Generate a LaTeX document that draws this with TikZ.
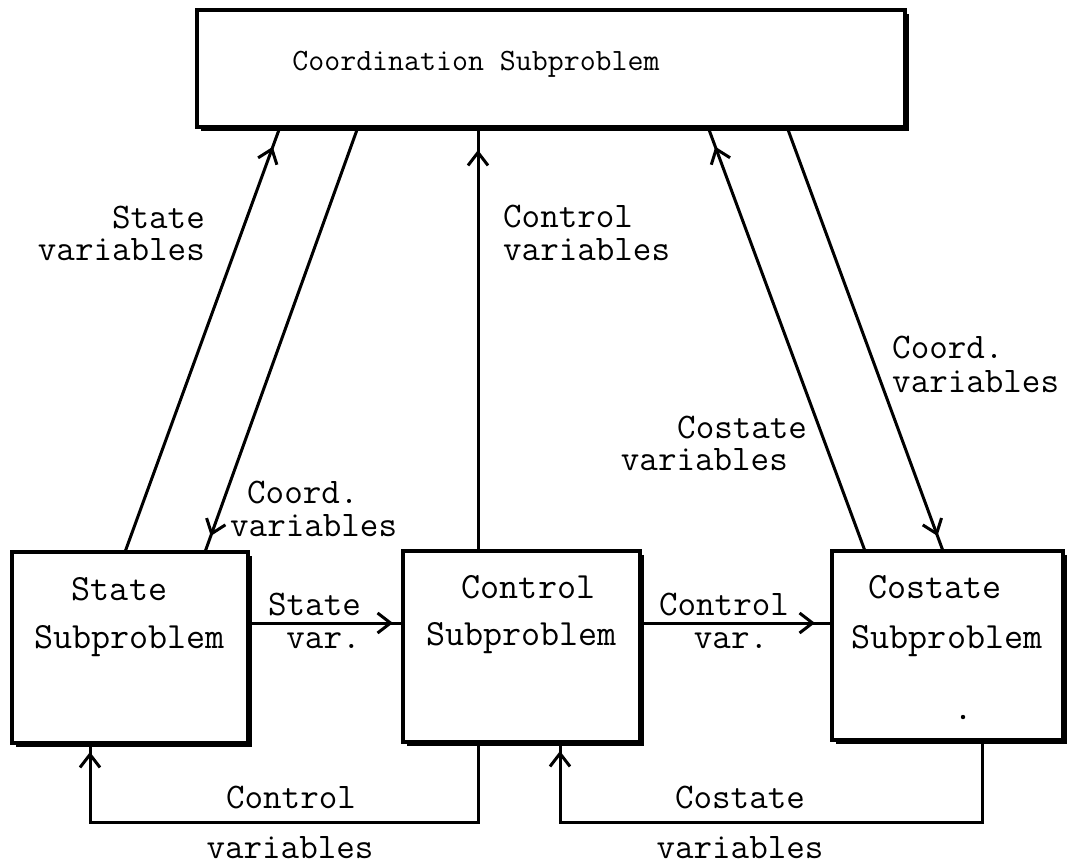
\documentclass[tikz,border=0pt]{standalone}
\usepackage{fontspec}
\usetikzlibrary{arrows.meta,decorations.markings,calc}

\newcommand{\typed}{\ttfamily\addfontfeatures{FakeBold=0.7}}

\tikzset{
  box/.style={draw, line width=3.6pt, inner sep=0pt, outer sep=0pt},
  wire/.style={line width=3pt},
  lbl/.style={font=\fontsize{36}{36}\selectfont\typed, inner sep=0pt},
  boxtext/.style={font=\fontsize{37}{37}\selectfont\typed, inner sep=0pt},
  titletext/.style={font=\fontsize{31}{31}\selectfont\typed, inner sep=0pt},
  headat/.style={postaction={decorate},
    decoration={markings, mark=at position -#1 with
      {\arrow{Straight Barb[length=13pt,width=20pt,line width=3pt]}}}},
}

\begin{document}
\begin{tikzpicture}[x=1pt,y=-1pt]
\useasboundingbox (0,0) rectangle (1067,865);

% blocks
\node[box, minimum width=708pt, minimum height=117pt] (coord)   at (551,68.5)   {};
\node[box, minimum width=236pt, minimum height=191pt] (state)   at (130,647.5)  {};
\node[box, minimum width=237pt, minimum height=191pt] (control) at (521.5,646.5) {};
\node[box, minimum width=231pt, minimum height=189pt] (costate) at (947.5,645.5) {};

% heavier right and bottom edges
\foreach \b in {coord,state,control,costate}
  \draw[line width=2.4pt] ($(\b.north east)+(2.5,4)$) -- ($(\b.south east)+(2.5,2.5)$)
                          -- ($(\b.south west)+(4,2.5)$);

% block titles
\node[titletext, anchor=base] (tcoord) at (476,70) {Coordination Subproblem};
\node[boxtext, anchor=base] (tstate1) at (119.5,600) {State};
\node[boxtext, anchor=base] (tstate2) at (129.5,648) {Subproblem};
\node[boxtext, anchor=base] (tcontrol1) at (528.5,598) {Control};
\node[boxtext, anchor=base] (tcontrol2) at (521.5,645) {Subproblem};
\node[boxtext, anchor=base] (tcostate1) at (935,598) {Costate};
\node[boxtext, anchor=base] (tcostate2) at (947,648) {Subproblem};

% links to and from the coordination level
\draw[wire, headat=21pt] ([xshift=-5pt]state.north) -- ([xshift=-271pt]coord.south);
\draw[wire, headat=17pt] ([xshift=-193pt]coord.south) -- ([xshift=75pt]state.north);
\draw[wire, headat=23pt] ([xshift=-43.5pt]control.north) -- ([xshift=-73pt]coord.south);
\draw[wire, headat=21pt] ([xshift=-82.5pt]costate.north) -- ([xshift=157pt]coord.south);
\draw[wire, headat=16pt] ([xshift=236pt]coord.south) -- ([xshift=-4.5pt]costate.north);

% links between the subproblems
\draw[wire, headat=10pt] ([yshift=24.5pt]state.east) -- ([yshift=23.5pt]control.west);
\draw[wire, headat=17pt] ([yshift=23.5pt]control.east) -- ([yshift=22.5pt]costate.west);

% feedback loops underneath
\draw[wire, headat=9pt] ([xshift=-43.5pt]control.south) -- ++(0,80) -| ([xshift=-40pt]state.south);
\draw[wire, headat=9pt] ([xshift=34.5pt]costate.south) -- ++(0,82) -| ([xshift=38.5pt]control.south);

% connector labels
\node[lbl, anchor=base east] (lsv1) at (205,228) {State};
\node[lbl, anchor=base east] (lsv2) at (205,260) {variables};
\node[lbl, anchor=base west] (lcv1) at (503,227) {Control};
\node[lbl, anchor=base west] (lcv2) at (503,260) {variables};
\node[lbl, anchor=base west] (lkv1) at (677,438) {Costate};
\node[lbl, anchor=base east] (lkv2) at (788,470) {variables};
\node[lbl, anchor=base west] (lrv1) at (892,358) {Coord.};
\node[lbl, anchor=base west] (lrv2) at (892,392) {variables};
\node[lbl, anchor=base west] (llv1) at (247,503) {Coord.};
\node[lbl, anchor=base west] (llv2) at (230,536) {variables};
\node[lbl, anchor=base] (lsx1) at (314.5,615) {State};
\node[lbl, anchor=base] (lsx2) at (323.5,648) {var.};
\node[lbl, anchor=base] (lcx1) at (724,615) {Control};
\node[lbl, anchor=base] (lcx2) at (731,648) {var.};
\node[lbl, anchor=base] (lbc1) at (291,808) {Control};
\node[lbl, anchor=base] (lbc2) at (290,858) {variables};
\node[lbl, anchor=base] (lbk1) at (740,808) {Costate};
\node[lbl, anchor=base] (lbk2) at (740,858) {variables};

% speck inside the costate block
\fill (963,717) circle (2.2pt);
\end{tikzpicture}
\end{document}
